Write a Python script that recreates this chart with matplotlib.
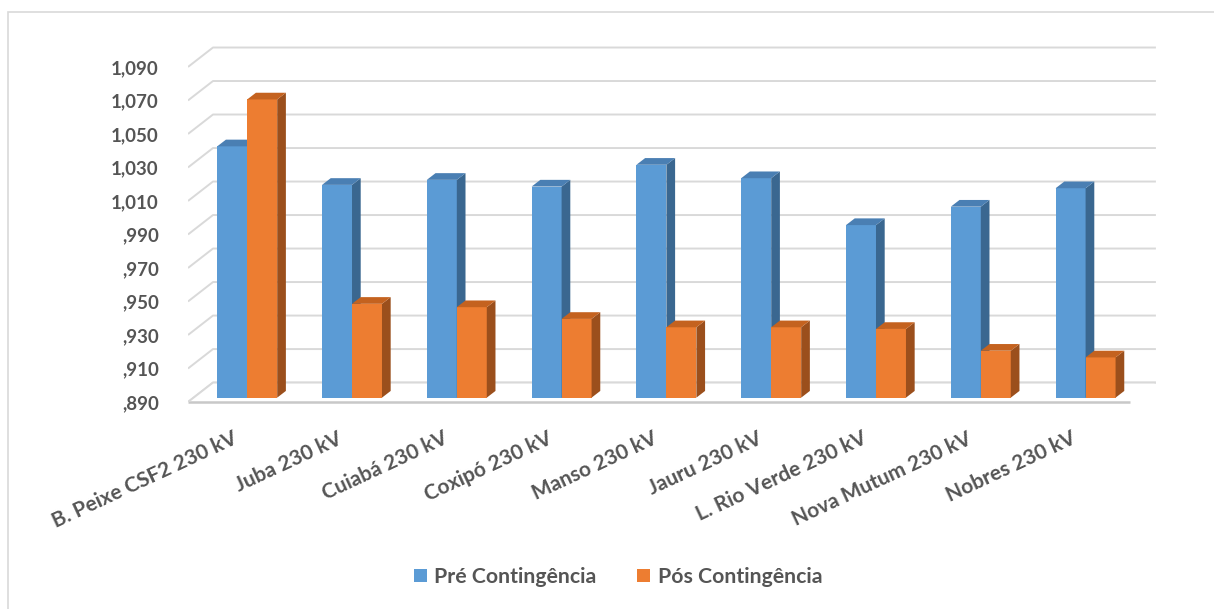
import matplotlib.pyplot as plt
from matplotlib.patches import Polygon, Rectangle, Patch

categories = ["B. Peixe CSF2 230 kV", "Juba 230 kV", "Cuiabá 230 kV", "Coxipó 230 kV",
              "Manso 230 kV", "Jauru 230 kV", "L. Rio Verde 230 kV", "Nova Mutum 230 kV",
              "Nobres 230 kV"]
pre = [1.040, 1.017, 1.020, 1.016, 1.029, 1.021, 0.993, 1.004, 1.015]
pos = [1.068, 0.946, 0.944, 0.937, 0.932, 0.932, 0.931, 0.918, 0.914]
series_names = ["Pré Contingência", "Pós Contingência"]
yticks = [0.890, 0.910, 0.930, 0.950, 0.970, 0.990, 1.010, 1.030, 1.050, 1.070, 1.090]

plt.rcParams['font.family'] = ['Lato', 'DejaVu Sans']
grey_txt = "#555555"
grid_c = "#d9d9d9"

W, H = 1214, 609
fig = plt.figure(figsize=(W / 100, H / 100), dpi=100)
# axes placed in pixels so that the fake 3D floor lands where it should
ax = fig.add_axes([188 / W, (H - 402) / H, (1160 - 188) / W, (402 - 46) / H])
ax.set_xlim(-0.515, 8.76)
ax.set_ylim(0.890, 1.1025)
for s in ax.spines.values():
    s.set_visible(False)

# depth offsets (wall and bars)
dx, dy = 0.2385, 0.0116
x_front_right, x_back_right = 8.473, 8.721
x0 = -0.515

# back wall gridlines with the diagonal going to the front
for v in yticks:
    ax.plot([x0, x0 + dx, x_back_right], [v, v + dy, v + dy], color=grid_c, lw=1.4,
            zorder=1, solid_capstyle='butt')

# floor: white slab, front edge drawn as a grey line
ax.add_patch(Polygon([(x0, 0.890), (x_front_right, 0.890), (x_back_right, 0.890 + dy),
                      (x0 + dx, 0.890 + dy)], closed=True, facecolor="white", lw=0, zorder=1.5))
ax.plot([x0, x_front_right], [0.890, 0.890], color="#c8c8c8", lw=1.8, zorder=1.6,
        solid_capstyle='butt', clip_on=False)
ax.plot([x0, x0 + dx, x_back_right], [0.890, 0.890 + dy, 0.890 + dy], color=grid_c, lw=1.4,
        zorder=1.6, solid_capstyle='butt')

bw = 0.286
bdx, bdy = 0.05, 0.0026
ddx, ddy = 0.083, 0.0040
front_cols = ["#5b9bd5", "#ed7d31"]
side_cols = ["#3a6790", "#9b4f1c"]
top_cols = ["#4a7fb3", "#c4621f"]


def bar3d(xl, v, k, z):
    b = 0.890 + bdy
    t = v + bdy
    xr = xl + bw
    ax.bar(xl, t - b, width=bw, bottom=b, align='edge', color=front_cols[k], lw=0, zorder=z)
    ax.add_patch(Polygon([(xr, b), (xr + ddx, b + ddy), (xr + ddx, t + ddy), (xr, t)],
                         closed=True, facecolor=side_cols[k], lw=0, zorder=z))
    ax.add_patch(Polygon([(xl, t), (xl + ddx, t + ddy), (xr + ddx, t + ddy), (xr, t)],
                         closed=True, facecolor=top_cols[k], lw=0, zorder=z))


for i in range(len(categories)):
    bar3d(i + bdx - bw, pre[i], 0, 3 + i * 0.01)
    bar3d(i + bdx, pos[i], 1, 4 + i * 0.01)

ax.set_yticks(yticks)
ax.set_yticklabels([("%.3f" % v).replace(".", ",").lstrip("0") for v in yticks])
ax.tick_params(axis='y', length=0, pad=21, labelsize=13.5, labelcolor=grey_txt)
for lab in ax.get_yticklabels():
    lab.set_fontweight('bold')
ax.set_xticks([])

for i, c in enumerate(categories):
    ax.text(i - 0.05, 0.8688, c, rotation=25, rotation_mode='anchor', ha='right', va='center',
            fontsize=15, fontweight='bold', color=grey_txt, clip_on=False)

handles = [Patch(facecolor=front_cols[0]), Patch(facecolor=front_cols[1])]
fig.legend(handles, series_names, loc='center', bbox_to_anchor=(618 / W, (H - 577) / H),
           ncol=2, frameon=False, handlelength=0.62, handleheight=0.62, handletextpad=0.35,
           columnspacing=1.9, prop={'size': 15.3, 'weight': 'bold'}, labelcolor=grey_txt)

# chart area border (only left and top edges are inside the image)
fig.add_artist(Rectangle((8 / W, -0.1), 1.2, (H - 12) / H + 0.1, transform=fig.transFigure,
                         fill=False, edgecolor=grid_c, lw=1.2))

fig.savefig("out.png", dpi=100)
